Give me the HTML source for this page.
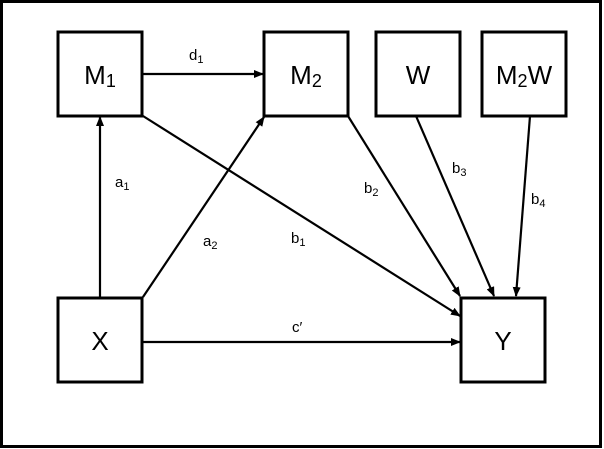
<!DOCTYPE html>
<html><head><style>body{margin:0;background:#fff}svg{display:block}text{font-family:"Liberation Sans",sans-serif;fill:#000}</style></head><body>
<svg width="604" height="449" viewBox="0 0 604 449">
<defs><marker id="a" markerWidth="10" markerHeight="8" refX="9" refY="4" orient="auto" markerUnits="userSpaceOnUse"><path d="M0,0 L10,4 L0,8 z" fill="#000"/></marker></defs>
<rect x="1.5" y="1.5" width="599" height="445" fill="none" stroke="#000" stroke-width="3"/>
<g fill="#fff" stroke="#000" stroke-width="3">
<rect x="58" y="32" width="84" height="84"/>
<rect x="264" y="32" width="84" height="84"/>
<rect x="376" y="32" width="84" height="84"/>
<rect x="482" y="32" width="84" height="84"/>
<rect x="58" y="298" width="84" height="84"/>
<rect x="461" y="298" width="84" height="84"/>
</g>
<g stroke="#000" stroke-width="2.2" marker-end="url(#a)">
<line x1="143" y1="74" x2="263" y2="74"/>
<line x1="100" y1="297" x2="100" y2="117"/>
<line x1="143" y1="297" x2="264" y2="117"/>
<line x1="143" y1="116" x2="460" y2="316"/>
<line x1="348" y1="116" x2="460" y2="296"/>
<line x1="416" y1="116" x2="494" y2="296"/>
<line x1="530" y1="116" x2="516" y2="296"/>
<line x1="143" y1="342" x2="460" y2="342"/>
</g>
<g font-size="26" text-anchor="middle">
<text x="100" y="84">M<tspan font-size="18" dy="3">1</tspan></text>
<text x="306" y="84">M<tspan font-size="18" dy="3">2</tspan></text>
<text x="418" y="84">W</text>
<text x="524" y="84">M<tspan font-size="18" dy="3">2</tspan><tspan dy="-3">W</tspan></text>
<text x="100" y="350">X</text>
<text x="503" y="350">Y</text>
</g>
<g font-size="15">
<text x="189" y="60">d<tspan font-size="11" dy="3">1</tspan></text>
<text x="115" y="187">a<tspan font-size="11" dy="3">1</tspan></text>
<text x="203" y="246">a<tspan font-size="11" dy="3">2</tspan></text>
<text x="291" y="243">b<tspan font-size="11" dy="3">1</tspan></text>
<text x="364" y="193">b<tspan font-size="11" dy="3">2</tspan></text>
<text x="452" y="173">b<tspan font-size="11" dy="3">3</tspan></text>
<text x="531" y="204">b<tspan font-size="11" dy="3">4</tspan></text>
<text x="292" y="332">c′</text>
</g>
</svg>
</body></html>
